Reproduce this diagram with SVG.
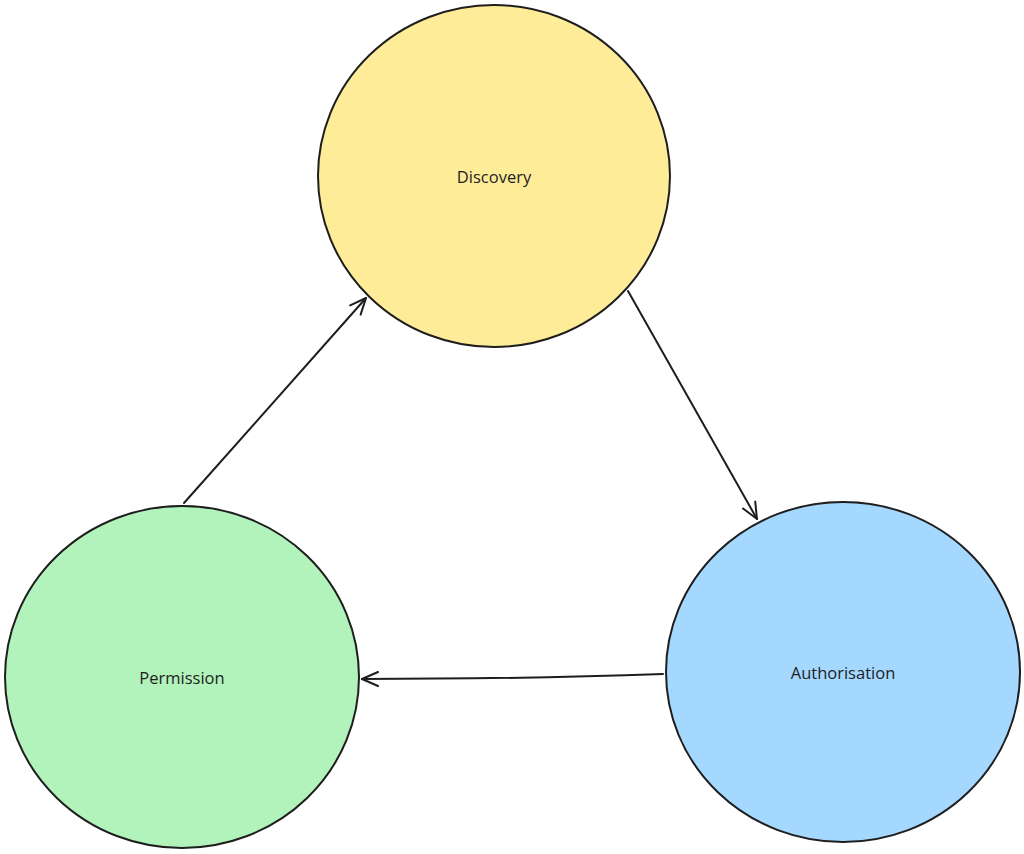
<svg xmlns="http://www.w3.org/2000/svg" width="1024" height="854" viewBox="0 0 1024 854">
<defs>
<style>
.node{stroke:#1e1e1e;stroke-width:2;}
.lbl{font-family:"Open Sans","Liberation Sans",sans-serif;font-size:16.5px;fill:#1e1e1e;text-anchor:middle;dominant-baseline:central;}
.conn{fill:none;stroke:#1e1e1e;stroke-width:2;stroke-linecap:round;}
</style>
<marker id="ah" viewBox="0 0 20 20" refX="18" refY="10" markerWidth="20" markerHeight="20" markerUnits="userSpaceOnUse" orient="auto">
<path d="M2,3 L18,10 L2,17" fill="none" stroke="#1e1e1e" stroke-width="2" stroke-linecap="round" stroke-linejoin="round"/>
</marker>
</defs>
<rect width="1024" height="854" fill="#ffffff"/>
<g id="connectors">
<path class="conn" d="M184,503 L366,298" marker-end="url(#ah)"/>
<path class="conn" d="M628,291 L757,519" marker-end="url(#ah)"/>
<path class="conn" d="M663,674 Q520,679 362,679" marker-end="url(#ah)"/>
</g>
<g id="discovery">
<ellipse class="node" cx="494" cy="176" rx="176" ry="171" fill="#ffec99"/>
<text class="lbl" x="494" y="176">Discovery</text>
</g>
<g id="permission">
<ellipse class="node" cx="182" cy="677" rx="177" ry="171" fill="#b2f2bb"/>
<text class="lbl" x="182" y="677">Permission</text>
</g>
<g id="authorisation">
<ellipse class="node" cx="843" cy="672" rx="177" ry="170" fill="#a5d8ff"/>
<text class="lbl" x="843" y="672">Authorisation</text>
</g>
</svg>
